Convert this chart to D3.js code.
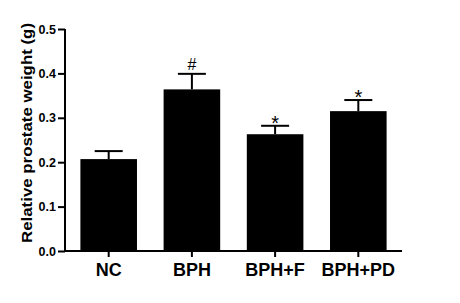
<!DOCTYPE html>
<html>
    <head>
        <script src="https://d3js.org/d3.v7.min.js"></script>
        <style>
            body { margin: 0; background-color: #ffffff; }
            text { font-family: "Liberation Sans", Arial, sans-serif; font-weight: bold; }
        </style>
    </head>
    <body>
        <div id="chart"></div>
        <script>
            const groups = ["NC", "BPH", "BPH+F", "BPH+PD"];
            const means = [0.207, 0.364, 0.263, 0.315];
            const errors = [0.018, 0.035, 0.019, 0.025];
            const marks = ["", "#", "*", "*"];
            const yTicks = [0.0, 0.1, 0.2, 0.3, 0.4, 0.5];

            const W = 460, H = 303;
            const mLeft = 65, mRight = 402, mTop = 29, mBottom = 251;

            const svg = d3.select("#chart").append("svg")
                .attr("width", W).attr("height", H);

            const x = d3.scaleBand().domain(groups).range([mLeft, mRight])
                .paddingInner(0.32).paddingOuter(0.185);
            const y = d3.scaleLinear().domain([0, 0.5]).range([mBottom, mTop]);

            const data = groups.map((g, i) => ({ g: g, m: means[i], e: errors[i], s: marks[i] }));

            // error bars (upper only)
            const eb = svg.append("g").attr("stroke", "#000").attr("stroke-width", 2);
            eb.selectAll(".v").data(data).join("line")
                .attr("x1", d => x(d.g) + x.bandwidth()/2).attr("x2", d => x(d.g) + x.bandwidth()/2)
                .attr("y1", d => y(d.m)).attr("y2", d => y(d.m + d.e));
            eb.selectAll(".cap").data(data).join("line")
                .attr("x1", d => x(d.g) + x.bandwidth()/2 - 14).attr("x2", d => x(d.g) + x.bandwidth()/2 + 14)
                .attr("y1", d => y(d.m + d.e)).attr("y2", d => y(d.m + d.e));

            svg.selectAll("rect.bar").data(data).join("rect")
                .attr("class", "bar")
                .attr("x", d => x(d.g)).attr("width", x.bandwidth())
                .attr("y", d => y(d.m)).attr("height", d => y(0) - y(d.m))
                .attr("fill", "#000");

            // significance marks
            svg.selectAll("text.sig").data(data).join("text")
                .attr("class", "sig")
                .attr("x", d => x(d.g) + x.bandwidth()/2)
                .attr("y", d => d.s == "#" ? y(d.m + d.e) - 4 : y(d.m + d.e) + 4)
                .attr("text-anchor", "middle")
                .attr("font-size", d => d.s == "#" ? 16 : 20)
                .style("font-weight", "normal")
                .text(d => d.s);

            // axes
            const yAxis = svg.append("g").attr("transform", `translate(${mLeft},0)`)
                .call(d3.axisLeft(y).tickValues(yTicks).tickFormat(d3.format(".1f")).tickSize(7).tickPadding(2));
            yAxis.select(".domain").attr("stroke-width", 2).attr("d", `M0,${mTop}V${mBottom}`);
            yAxis.selectAll(".tick line").attr("stroke-width", 2);
            yAxis.selectAll("text").attr("font-size", 12.5).attr("fill", "#000");

            const xAxis = svg.append("g").attr("transform", `translate(0,${mBottom})`)
                .call(d3.axisBottom(x).tickSize(6).tickPadding(6));
            xAxis.select(".domain").attr("stroke-width", 2).attr("d", `M${mLeft - 1},0H${mRight}`);
            xAxis.selectAll(".tick line").attr("stroke-width", 2);
            xAxis.selectAll("text").attr("font-size", 18).attr("fill", "#000");

            svg.append("text")
                .attr("transform", `translate(32,133) rotate(-90)`)
                .attr("text-anchor", "middle")
                .attr("font-size", 14.5)
                .attr("textLength", 220)
                .attr("lengthAdjust", "spacingAndGlyphs")
                .text("Relative prostate weight (g)");
        </script>
    </body>
</html>
